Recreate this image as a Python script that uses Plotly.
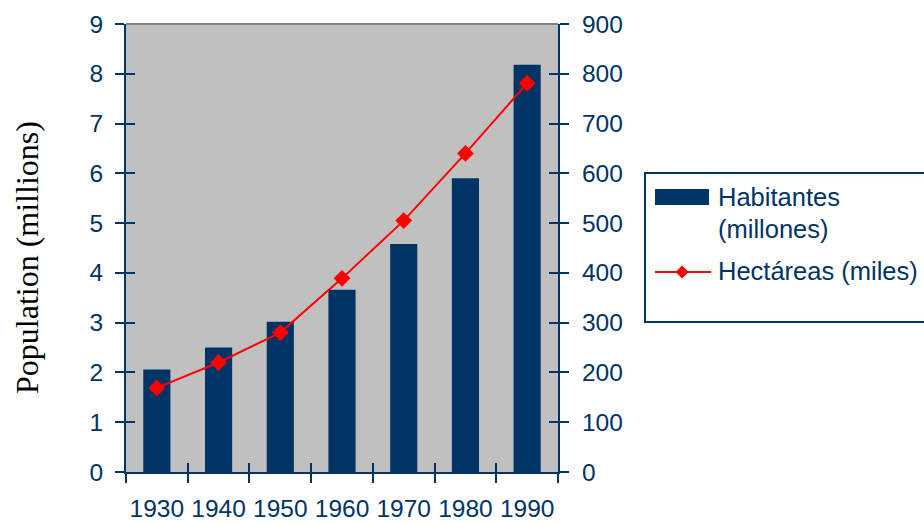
import plotly.graph_objects as go

# Data
years = ["1930", "1940", "1950", "1960", "1970", "1980", "1990"]
habitantes = [2.06, 2.50, 3.02, 3.66, 4.58, 5.90, 8.18]      # millions
hectareas = [169, 220, 280, 389, 505, 640, 781]                # thousands

left_ticks = list(range(0, 10))
right_ticks = list(range(0, 1000, 100))

NAVY = "#003366"
RED = "#FF0000"
SANS = "Liberation Sans, Arial, sans-serif"
SERIF = "Liberation Serif, Times New Roman, serif"

W, H = 924, 525
PL, PR, PT, PB = 126, 558, 24, 472


def px(xp):
    return (xp - PL) / (PR - PL)


def py(yp):
    return (PB - yp) / (PB - PT)


fig = go.Figure()

fig.add_trace(go.Bar(
    x=years, y=habitantes, name="Habitantes (millones)",
    marker=dict(color=NAVY, line=dict(width=0)),
    xaxis="x", yaxis="y",
))

fig.add_trace(go.Scatter(
    x=years, y=hectareas, name="Hectáreas (miles)",
    mode="lines+markers",
    line=dict(color=RED, width=2),
    marker=dict(symbol="diamond", size=13, color=RED),
    xaxis="x", yaxis="y2",
))

tickfont = dict(family=SANS, size=24.5, color=NAVY)
axis_common = dict(
    showgrid=False, zeroline=False,
    tickcolor=NAVY, tickwidth=2, ticklen=9,
)

fig.update_layout(
    width=W, height=H,
    margin=dict(l=PL, r=W - PR, t=PT, b=H - PB, autoexpand=False),
    paper_bgcolor="white",
    plot_bgcolor="#C0C0C0",
    showlegend=False,
    bargap=0.56,
    xaxis=dict(
        type="category", tickson="boundaries", ticks="outside",
        showline=True, linecolor=NAVY, linewidth=2, ticklabelstandoff=14,
        tickangle=0, tickfont=tickfont, range=[-0.5, 6.5], **axis_common,
    ),
    xaxis2=dict(
        overlaying="x", anchor="y", side="bottom", range=[-0.5, 6.5],
        tickvals=[i + 0.5 for i in range(-1, 7)], ticks="inside",
        showticklabels=False, showline=False, **axis_common,
    ),
    yaxis=dict(
        range=[0, 9], tickvals=left_ticks, ticks="outside",
        showline=True, linecolor=NAVY, linewidth=2, ticklabelstandoff=7,
        tickfont=tickfont, **axis_common,
    ),
    yaxis3=dict(
        overlaying="y", anchor="x", side="left", range=[0, 9],
        tickvals=left_ticks, ticks="inside", showticklabels=False,
        showline=False, **axis_common,
    ),
    yaxis2=dict(
        overlaying="y", anchor="x", side="right", range=[0, 900],
        tickvals=right_ticks, ticks="outside",
        showline=True, linecolor=NAVY, linewidth=2, ticklabelstandoff=8,
        tickfont=tickfont, **axis_common,
    ),
    yaxis4=dict(
        overlaying="y", anchor="x", side="right", range=[0, 900],
        tickvals=right_ticks, ticks="inside", showticklabels=False,
        showline=False, **axis_common,
    ),
)

# Empty traces so the helper axes are drawn
fig.add_trace(go.Scatter(x=[None], y=[None], xaxis="x2", yaxis="y3",
                         showlegend=False, hoverinfo="skip"))
fig.add_trace(go.Scatter(x=[None], y=[None], xaxis="x", yaxis="y4",
                         showlegend=False, hoverinfo="skip"))

shapes = []
# gray top border of the plot area
shapes.append(dict(type="line", xref="paper", yref="paper",
                   x0=0, x1=1, y0=1, y1=1,
                   line=dict(color="#808080", width=2)))

# Legend box
shapes.append(dict(type="rect", xref="paper", yref="paper",
                   x0=px(645), x1=px(940), y0=py(322), y1=py(173),
                   line=dict(color=NAVY, width=2), fillcolor="white",
                   layer="above"))
# Bar key
shapes.append(dict(type="rect", xref="paper", yref="paper",
                   x0=px(655), x1=px(709), y0=py(205), y1=py(189),
                   line=dict(width=0), fillcolor=NAVY, layer="above"))
# Line key
shapes.append(dict(type="line", xref="paper", yref="paper",
                   x0=px(655), x1=px(711), y0=py(272), y1=py(272),
                   line=dict(color=RED, width=2), layer="above"))
cx, cy, r = 682, 272, 6.5
shapes.append(dict(
    type="path", xref="paper", yref="paper",
    path=(f"M {px(cx - r)} {py(cy)} L {px(cx)} {py(cy - r)} "
          f"L {px(cx + r)} {py(cy)} L {px(cx)} {py(cy + r)} Z"),
    fillcolor=RED, line=dict(width=0), layer="above"))

legend_font = dict(family=SANS, size=25.5, color=NAVY)
annotations = [
    dict(text="Habitantes", x=px(716), y=py(197), xref="paper", yref="paper",
         xanchor="left", yanchor="middle", showarrow=False, font=legend_font),
    dict(text="(millones)", x=px(716), y=py(229), xref="paper", yref="paper",
         xanchor="left", yanchor="middle", showarrow=False, font=legend_font),
    dict(text="Hectáreas (miles)", x=px(716), y=py(271), xref="paper",
         yref="paper", xanchor="left", yanchor="middle", showarrow=False,
         font=legend_font),
    dict(text="Population (millions)", x=px(27), y=py(258), xref="paper",
         yref="paper", xanchor="center", yanchor="middle", textangle=-90,
         showarrow=False, font=dict(family=SERIF, size=32, color="black")),
]

fig.update_layout(shapes=shapes, annotations=annotations)

fig.write_html("out.html")
